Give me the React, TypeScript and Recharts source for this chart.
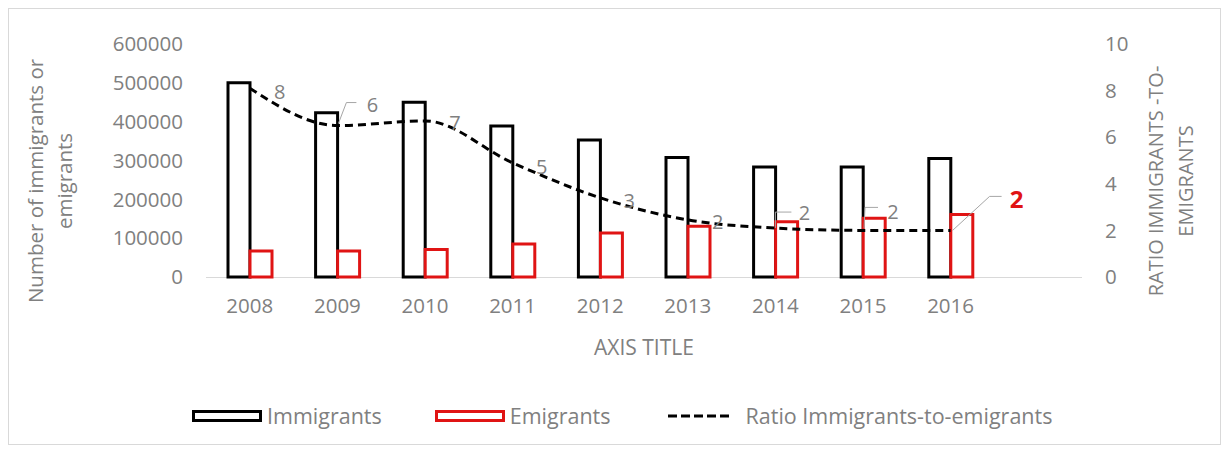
import React from "react";
import { ComposedChart, Bar, Line, XAxis, YAxis, Label } from "recharts";

// values
const years = ["2008", "2009", "2010", "2011", "2012", "2013", "2014", "2015", "2016", ""];
const immigrants = [500000, 423000, 450000, 389000, 353000, 308000, 283000, 283000, 305000, null];
const emigrants = [67000, 67000, 71000, 85000, 113000, 131000, 142000, 151000, 161000, null];
const ratio = [8.1, 6.5, 6.7, 4.9, 3.4, 2.45, 2.1, 2.0, 2.0, null];
const ratioLabels = ["8", "6", "7", "5", "3", "2", "2", "2", "2", ""];
const leftTicks = [0, 100000, 200000, 300000, 400000, 500000, 600000];
const rightTicks = [0, 2, 4, 6, 8, 10];

const GRAY = "#808080";
const RED = "#e01414";
const FONT = "'Open Sans', sans-serif";

// plot box inside the chart svg
const PLOT_LEFT = 197;
const PLOT_RIGHT_W = 138;
const PLOT_TOP = 35;
const X_AXIS_H = 92;
const CHART_W = 1211;
const CHART_H = 360;

// where each data label sits relative to its point (+ optional leader line)
const labelPlacement: Array<{ dx: number; dy: number; leader?: number[][]; highlight?: boolean }> = [
  { dx: 30, dy: 3 },
  { dx: 35, dy: -21, leader: [[1, -2], [9, -23], [19, -23]] },
  { dx: 30, dy: 2 },
  { dx: 29, dy: 4 },
  { dx: 29, dy: 3 },
  { dx: 30, dy: 2 },
  { dx: 29, dy: -16, leader: [[0, 0], [0, -16], [16, -16]] },
  { dx: 30, dy: -19, leader: [[1, -2], [2, -23], [15, -23]] },
  { dx: 66, dy: -32, leader: [[2, 0], [39, -34], [51, -34]], highlight: true },
];

const data = years.map((year, i) => ({
  year,
  immigrants: immigrants[i],
  emigrants: emigrants[i],
  ratio: ratio[i],
  ratioLabel: ratioLabels[i],
}));

const RatioLabel = (props: any) => {
  const { cx, cy, index, payload } = props;
  const place = labelPlacement[index];
  if (cx == null || cy == null || payload.ratio == null || !place) return <g key={`lbl-${index}`} />;
  const pts = place.leader ? place.leader.map(([a, b]) => `${cx + a},${cy + b}`).join(" ") : null;
  return (
    <g key={`lbl-${index}`}>
      {pts && <polyline points={pts} fill="none" stroke="#a6a6a6" strokeWidth={1} />}
      <text
        x={cx + place.dx}
        y={cy + place.dy}
        textAnchor="middle"
        dominantBaseline="central"
        fontFamily={FONT}
        fontSize={place.highlight ? 24 : 20}
        fontWeight={place.highlight ? 700 : 400}
        fill={place.highlight ? RED : GRAY}
      >
        {payload.ratioLabel}
      </text>
    </g>
  );
};

const LegendBox = ({ color }: { color: string }) => (
  <span style={{ display: "inline-block", width: 64, height: 6, border: `3px solid ${color}`, background: "#fff", marginRight: 5 }} />
);

export default function App() {
  return (
    <div
      style={{
        position: "relative",
        width: 1213,
        height: 437,
        border: "1px solid #d9d9d9",
        boxSizing: "border-box",
        background: "#fff",
        fontFamily: FONT,
      }}
    >
      {/* category axis baseline, kept underneath the bars */}
      <div
        style={{
          position: "absolute",
          left: PLOT_LEFT,
          top: CHART_H - X_AXIS_H,
          width: CHART_W - PLOT_LEFT - PLOT_RIGHT_W,
          height: 1,
          background: "#d9d9d9",
        }}
      />
      <ComposedChart
        width={CHART_W}
        height={CHART_H}
        data={data}
        margin={{ top: PLOT_TOP, right: 0, bottom: 0, left: 0 }}
        barGap={0}
      >
        <XAxis
          dataKey="year"
          height={X_AXIS_H}
          axisLine={false}
          tickLine={false}
          tickMargin={15}
          tick={{ fontSize: 20.5, fill: GRAY, fontFamily: FONT }}
          interval={0}
        >
          <Label
            content={(p: any) => {
              const vb = p.viewBox;
              return (
                <text x={vb.x + vb.width / 2} y={338} textAnchor="middle" dominantBaseline="central" fontSize={21} fill={GRAY} fontFamily={FONT}>
                  AXIS TITLE
                </text>
              );
            }}
          />
        </XAxis>
        <YAxis
          yAxisId="left"
          width={PLOT_LEFT}
          domain={[0, 600000]}
          ticks={leftTicks}
          axisLine={false}
          tickLine={false}
          tickMargin={17}
          tick={{ fontSize: 20.5, fill: GRAY, fontFamily: FONT }}
        >
          <Label
            content={() => (
              <g fontSize={20.5} fill={GRAY} fontFamily={FONT}>
                <text x={26} y={172} transform="rotate(-90, 26, 172)" textAnchor="middle" dominantBaseline="central">
                  Number of immigrants  or
                </text>
                <text x={55} y={172} transform="rotate(-90, 55, 172)" textAnchor="middle" dominantBaseline="central">
                  emigrants
                </text>
              </g>
            )}
          />
        </YAxis>
        <YAxis
          yAxisId="right"
          orientation="right"
          width={PLOT_RIGHT_W}
          domain={[0, 10]}
          ticks={rightTicks}
          axisLine={false}
          tickLine={false}
          tickMargin={17}
          tick={{ fontSize: 20.5, fill: GRAY, fontFamily: FONT, textAnchor: "start" }}
        >
          <Label
            content={() => (
              <g fontSize={20} fill={GRAY} fontFamily={FONT}>
                <text x={1146} y={172} transform="rotate(-90, 1146, 172)" textAnchor="middle" dominantBaseline="central">
                  RATIO IMMIGRANTS -TO-
                </text>
                <text x={1176} y={172} transform="rotate(-90, 1176, 172)" textAnchor="middle" dominantBaseline="central">
                  EMIGRANTS
                </text>
              </g>
            )}
          />
        </YAxis>
        <Bar
          yAxisId="left"
          dataKey="immigrants"
          name="Immigrants"
          barSize={22}
          fill="#fff"
          stroke="#000"
          strokeWidth={3}
          isAnimationActive={false}
        />
        <Bar
          yAxisId="left"
          dataKey="emigrants"
          name="Emigrants"
          barSize={22}
          fill="#fff"
          stroke={RED}
          strokeWidth={3}
          isAnimationActive={false}
        />
        <Line
          yAxisId="right"
          dataKey="ratio"
          name="Ratio Immigrants-to-emigrants"
          type="monotone"
          stroke="#000"
          strokeWidth={3}
          strokeDasharray="8 5"
          dot={RatioLabel}
          activeDot={false}
          isAnimationActive={false}
        />
      </ComposedChart>
      <div
        style={{
          position: "absolute",
          left: 183,
          top: 394,
          display: "flex",
          alignItems: "center",
          fontSize: 21.5,
          color: GRAY,
          lineHeight: "26px",
        }}
      >
        <LegendBox color="#000" />
        <span style={{ marginRight: 53 }}>Immigrants</span>
        <LegendBox color={RED} />
        <span style={{ marginRight: 57 }}>Emigrants</span>
        <svg width={64} height={6} style={{ marginRight: 14 }}>
          <line x1={0} y1={3} x2={64} y2={3} stroke="#000" strokeWidth={3} strokeDasharray="9 4" />
        </svg>
        <span>Ratio Immigrants-to-emigrants</span>
      </div>
    </div>
  );
}
